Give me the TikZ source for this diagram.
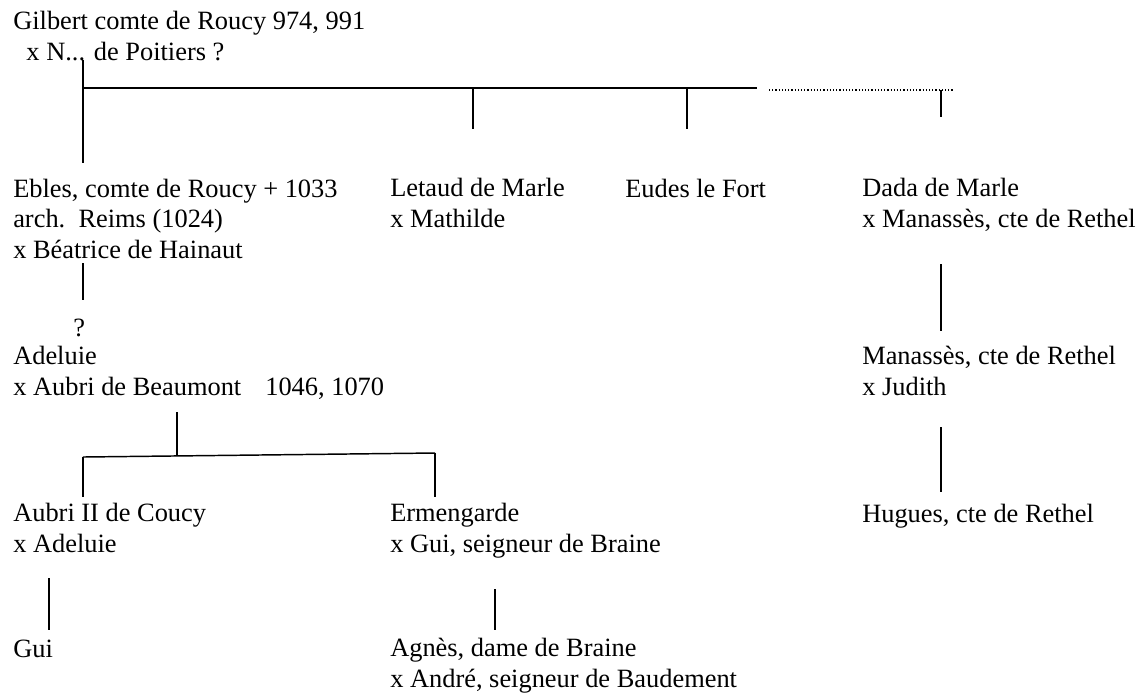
\documentclass[tikz,border=0pt]{standalone}
\usepackage{fontspec}
\setmainfont{Liberation Serif}
\tikzset{
  person/.style={anchor=base west,inner sep=0pt,align=left,font=\fontsize{19.8pt}{22.8pt}\selectfont},
  link/.style={line width=1.1pt},
  dotlink/.style={line width=0.9pt,dash pattern=on 0.9pt off 1.5pt}
}
\begin{document}
\begin{tikzpicture}[x=0.75pt,y=-0.75pt]
\useasboundingbox (0,0) rectangle (1144,694);
\node[person] (gilbert) at (13,60) {Gilbert comte de Roucy 974, 991\\\hspace{0.5em}x N... de Poitiers ?};
\node[person] (ebles) at (13,258) {Ebles, comte de Roucy + 1033\\arch.\ \ Reims (1024)\\x Béatrice de Hainaut};
\node[person] (letaud) at (390,227) {Letaud de Marle\\x Mathilde};
\node[person] (eudes) at (625,197) {Eudes le Fort};
\node[person] (dada) at (862,227) {Dada de Marle\\x Manassès, cte de Rethel};
\node[person] (doubt) at (73,336) {?};
\node[person] (adeluie) at (13,395) {Adeluie\\x Aubri de Beaumont\hspace{0.91em}1046, 1070};
\node[person] (manasses) at (862,395) {Manassès, cte de Rethel\\x Judith};
\node[person] (aubri) at (13,552) {Aubri II de Coucy\\x Adeluie};
\node[person] (ermengarde) at (390,552) {Ermengarde\\x Gui, seigneur de Braine};
\node[person] (hugues) at (862,522) {Hugues, cte de Rethel};
\node[person] (gui) at (13,657) {Gui};
\node[person] (agnes) at (390,687) {Agnès, dame de Braine\\x André, seigneur de Baudement};

\coordinate (gilbertTop) at (83,60);
\coordinate (eblesTop) at (83,163);
\coordinate (busL) at (83,88);
\coordinate (busR) at (757,88);
\coordinate (letaudA) at (473,88);
\coordinate (letaudB) at (473,129);
\coordinate (eudesA) at (687,88);
\coordinate (eudesB) at (687,129);
\coordinate (dotL) at (769,90);
\coordinate (dotR) at (953,90);
\coordinate (dadaA) at (941,90);
\coordinate (dadaB) at (941,117);
\coordinate (eblesA) at (83,263);
\coordinate (eblesB) at (83,300);
\coordinate (manA) at (941,264);
\coordinate (manB) at (941,331);
\coordinate (hugA) at (941,427);
\coordinate (hugB) at (941,492);
\coordinate (adeA) at (177,412);
\coordinate (adeB) at (177,455);
\coordinate (busL2) at (83,457);
\coordinate (busR2) at (435,453);
\coordinate (aubriB) at (83,497);
\coordinate (ermB) at (435,497);
\coordinate (guiA) at (49,578);
\coordinate (guiB) at (49,630);
\coordinate (agnA) at (495,589);
\coordinate (agnB) at (495,630);

\draw[link] (gilbertTop)--(eblesTop);
\draw[link] (busL)--(busR);
\draw[link] (letaudA)--(letaudB);
\draw[link] (eudesA)--(eudesB);
\draw[dotlink] (dotL)--(dotR);
\draw[link] (dadaA)--(dadaB);
\draw[link] (eblesA)--(eblesB);
\draw[link] (manA)--(manB);
\draw[link] (hugA)--(hugB);
\draw[link] (adeA)--(adeB);
\draw[link] (busL2)--(busR2);
\draw[link] (busL2)--(aubriB);
\draw[link] (busR2)--(ermB);
\draw[link] (guiA)--(guiB);
\draw[link] (agnA)--(agnB);
\end{tikzpicture}
\end{document}
